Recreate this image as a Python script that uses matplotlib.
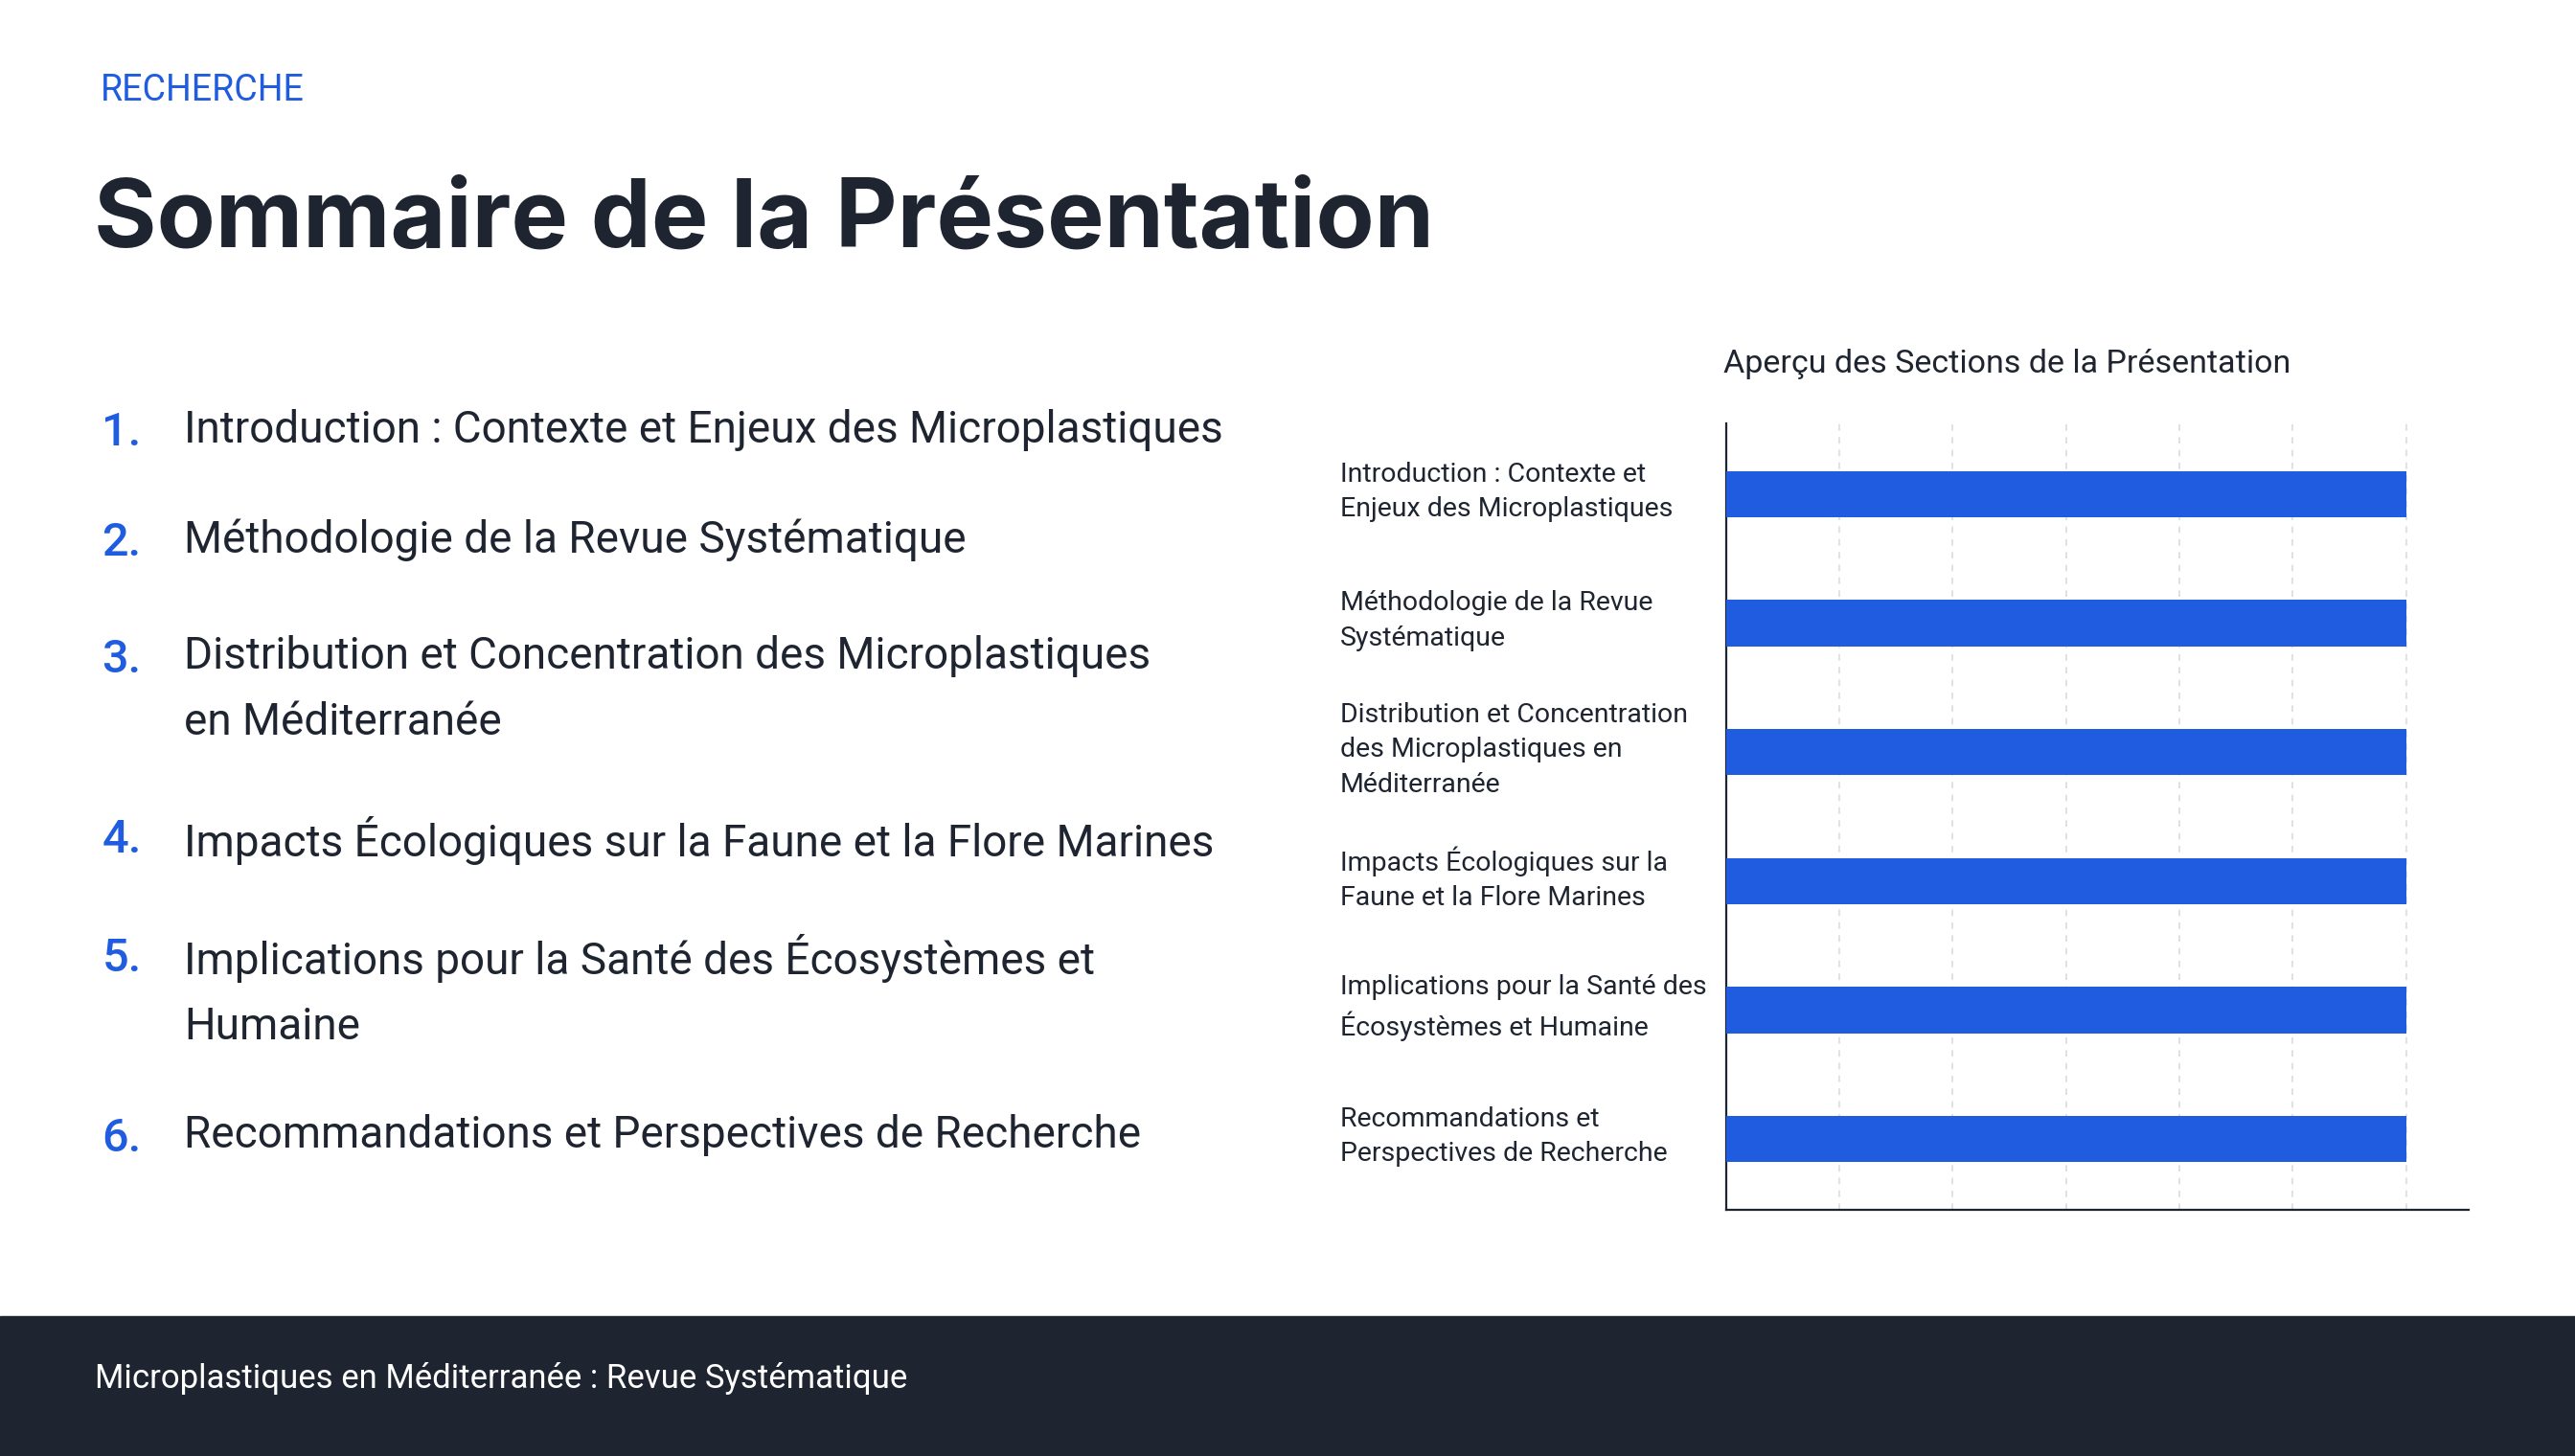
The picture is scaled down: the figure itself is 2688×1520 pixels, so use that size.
import matplotlib

matplotlib.use("Agg")
import matplotlib.pyplot as plt
from matplotlib.patches import Rectangle
from matplotlib.transforms import blended_transform_factory

plt.rcParams["font.family"] = ["Roboto", "DejaVu Sans"]

BLUE = "#1f5ce0"
DARK = "#1e2530"

kicker = "RECHERCHE"
title = "Sommaire de la Présentation"
items = [
    "Introduction : Contexte et Enjeux des Microplastiques",
    "Méthodologie de la Revue Systématique",
    "Distribution et Concentration des Microplastiques\nen Méditerranée",
    "Impacts Écologiques sur la Faune et la Flore Marines",
    "Implications pour la Santé des Écosystèmes et\nHumaine",
    "Recommandations et Perspectives de Recherche",
]
item_y = [264, 331, 402, 512, 584, 694]  # top-line positions in 887px-high layout
chart_title = "Aperçu des Sections de la Présentation"
chart_labels = [
    "Introduction : Contexte et\nEnjeux des Microplastiques",
    "Méthodologie de la Revue\nSystématique",
    "Distribution et Concentration\ndes Microplastiques en\nMéditerranée",
    "Impacts Écologiques sur la\nFaune et la Flore Marines",
    "Implications pour la Santé des\nÉcosystèmes et Humaine",
    "Recommandations et\nPerspectives de Recherche",
]
chart_values = [120, 120, 120, 120, 120, 120]
footer = "Microplastiques en Méditerranée : Revue Systématique"

W, H = 1568, 887
fig = plt.figure(figsize=(26.88, 15.20), dpi=100)
fig.patch.set_facecolor("white")


def fx(x):
    return x / W


def fy(y):
    return 1 - y / H


fig.text(fx(61), fy(55), kicker, color=BLUE, fontsize=27, va="center", ha="left")
fig.text(fx(57), fy(135), title, color=DARK, fontsize=72, fontweight="bold",
         family=["Inter", "DejaVu Sans"], va="center", ha="left")

for i, (txt, y) in enumerate(zip(items, item_y)):
    fig.text(fx(62), fy(y), f"{i + 1}.", color=BLUE, fontsize=35, fontweight="medium",
             va="center", ha="left")
    fig.text(fx(112), fy(y) + 0.017, txt, color=DARK, fontsize=33, va="top", ha="left",
             linespacing=1.7)

# footer band
fig.add_artist(Rectangle((0, 0), 1, 1 - 802 / H, transform=fig.transFigure,
                         color=DARK, zorder=0))
fig.text(fx(58), fy(840), footer, color="white", fontsize=25, va="center", ha="left")

# chart
ax = fig.add_axes([fx(1051), fy(737), fx(1503) - fx(1051), (737 - 258) / H])
ypos = list(range(len(chart_values)))[::-1]
ax.barh(ypos, chart_values, height=0.36, color=BLUE, zorder=3)
ax.set_xlim(0, 131)
ax.set_ylim(-0.55, 5.55)
ax.set_xticks([20, 40, 60, 80, 100, 120])
ax.set_xticklabels([])
ax.tick_params(length=0)
ax.set_yticks([])
ax.grid(axis="x", color="#d8dbe0", linestyle=(0, (4, 4)), linewidth=1.2, zorder=0)
for s in ["top", "right"]:
    ax.spines[s].set_visible(False)
for s in ["left", "bottom"]:
    ax.spines[s].set_color(DARK)
    ax.spines[s].set_linewidth(1.6)

tr = blended_transform_factory(ax.transAxes, ax.transData)
for lab, y in zip(chart_labels, ypos):
    ax.text((816 - 1051) / 452, y + 0.02, lab, transform=tr, ha="left", va="center",
            fontsize=20.5, color=DARK, linespacing=1.45)

fig.text(fx(1222), fy(222), chart_title, color=DARK, fontsize=24.5, ha="center", va="center")

fig.savefig("out.png", dpi=100)
